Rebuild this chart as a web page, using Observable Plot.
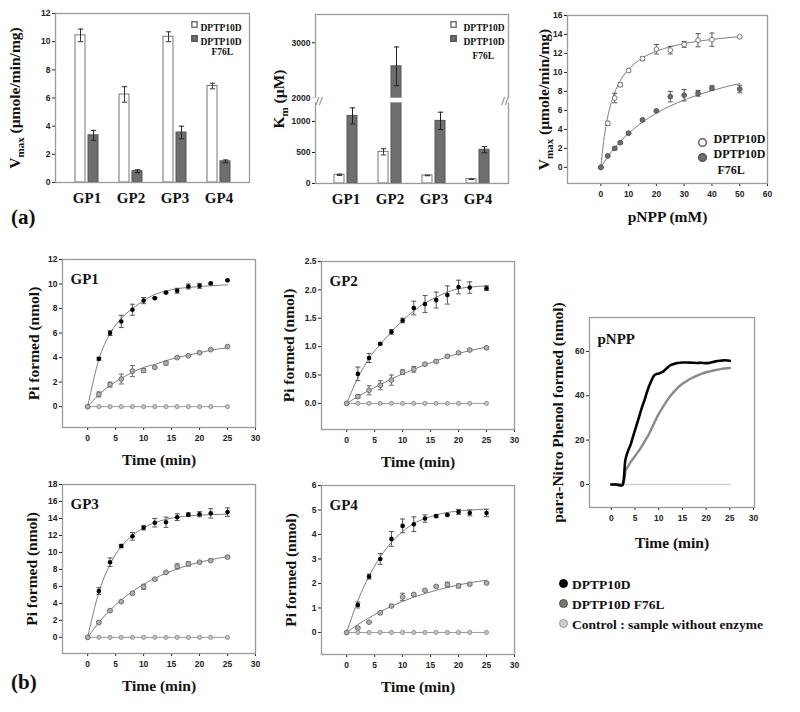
<!DOCTYPE html>
<html><head><meta charset="utf-8">
<script src="https://cdn.jsdelivr.net/npm/d3@7"></script>
<script src="https://cdn.jsdelivr.net/npm/@observablehq/plot@0.6"></script>
<style>
body{margin:0;background:#fff}
#page{position:relative;width:800px;height:712px;background:#fff;overflow:hidden}
.panel{position:absolute}
.panel svg{overflow:visible}
.panel g[aria-label="y-axis label"], .panel g[aria-label="y-axis label"] text,
.panel g[aria-label="x-axis label"], .panel g[aria-label="x-axis label"] text{font:bold 15.5px "Liberation Serif",serif;fill:#111}
.bars g[aria-label="x-axis tick label"], .bars g[aria-label="x-axis tick label"] text{font:bold 15px "Liberation Serif",serif;fill:#111}
.tag{position:absolute;font:bold 21px "Liberation Serif",serif;color:#111}
.legend{position:absolute;font:bold 13.5px "Liberation Serif",serif;color:#111;line-height:20px}
.legend span{display:inline-block;width:7px;height:7px;border-radius:50%;border:1px solid #555;margin-right:4px;vertical-align:1px}
</style>
</head><body><div id="page"></div>
<script>
// ---------- (a) bar charts ----------
const groups = ["GP1", "GP2", "GP3", "GP4"];
const vmaxWt = [10.45, 6.25, 10.35, 6.85];
const vmaxWtErr = [0.45, 0.55, 0.35, 0.2];
const vmaxMut = [3.35, 0.8, 3.55, 1.5];
const vmaxMutErr = [0.35, 0.1, 0.45, 0.1];
const kmWt = [140, 510, 130, 70];
const kmWtErr = [10, 50, 5, 5];
const kmMut = [1090, 2575, 1010, 545];
const kmMutErr = [130, 350, 140, 50];
const kmBreak = [1300, 2000];
const seriesNames = ["DPTP10D", "DPTP10D", "F76L"];

// ---------- (a) Michaelis-Menten ----------
const pnppConc = [0, 2.5, 5, 7, 10, 15, 20, 25, 30, 35, 40, 50];
const mmWt = [0, 4.65, 7.3, 8.7, 10.2, 11.45, 12.45, 12.35, 12.95, 13.4, 13.45, 13.75];
const mmWtErr = [0, 0.2, 0.5, 0.2, 0.15, 0.2, 0.5, 0.4, 0.3, 0.7, 0.7, 0.05];
const mmMut = [0, 1.2, 2.0, 2.6, 3.6, 5.0, 5.95, 7.45, 7.6, 7.8, 8.35, 8.25];
const mmMutErr = [0, 0.05, 0.15, 0.1, 0.1, 0.1, 0.05, 0.55, 0.6, 0.3, 0.25, 0.4];
const fitConc = [0, 1, 2, 3, 4, 5, 6, 8, 10, 12, 15, 20, 25, 30, 35, 40, 45, 50];
const mmWtFit = [0, 2.73, 4.62, 6.0, 7.06, 7.89, 8.57, 9.6, 10.34, 10.91, 11.54, 12.24, 12.71, 13.04, 13.29, 13.48, 13.64, 13.76];
const mmMutFit = [0, 0.47, 0.91, 1.32, 1.7, 2.06, 2.4, 3.03, 3.59, 4.1, 4.77, 5.71, 6.47, 7.1, 7.64, 8.09, 8.49, 8.83];

// ---------- (b) time courses ----------
const timePts = [0, 2, 4, 6, 8, 10, 12, 14, 16, 18, 20, 22, 25];
const ctrlVals = [0, 0, 0, 0, 0, 0, 0, 0, 0, 0, 0, 0, 0];
const gp1Wt = [0, 3.9, 6.0, 6.95, 7.9, 8.65, 8.85, 9.3, 9.45, 9.8, 9.85, 10.05, 10.3];
const gp1WtErr = [0, 0.12, 0.2, 0.5, 0.45, 0.25, 0.05, 0.05, 0.2, 0.2, 0.2, 0.05, 0.05];
const gp1WtFit = [0, 3.85, 5.95, 7.2, 8.0, 8.65, 9.15, 9.43, 9.62, 9.72, 9.8, 9.86, 9.93];
const gp1Mut = [0, 1.0, 1.8, 2.25, 2.9, 2.95, 3.2, 3.55, 4.0, 4.15, 4.4, 4.65, 4.9];
const gp1MutErr = [0, 0.2, 0.2, 0.4, 0.45, 0.15, 0.05, 0.15, 0.05, 0.05, 0.05, 0.05, 0.05];
const gp1MutFit = [0, 0.98, 1.72, 2.3, 2.8, 3.2, 3.45, 3.75, 4.0, 4.2, 4.4, 4.6, 4.8];

const gp2Wt = [0, 0.52, 0.8, 1.05, 1.26, 1.46, 1.68, 1.75, 1.82, 1.91, 2.05, 2.04, 2.03];
const gp2WtErr = [0, 0.12, 0.08, 0.02, 0.04, 0.04, 0.12, 0.15, 0.14, 0.16, 0.12, 0.1, 0.04];
const gp2WtFit = [0, 0.45, 0.79, 1.04, 1.26, 1.46, 1.63, 1.77, 1.87, 1.96, 2.02, 2.05, 2.07];
const gp2Mut = [0, 0.12, 0.23, 0.32, 0.41, 0.55, 0.6, 0.69, 0.74, 0.83, 0.89, 0.94, 0.98];
const gp2MutErr = [0, 0.03, 0.08, 0.08, 0.09, 0.04, 0.05, 0.02, 0.02, 0.02, 0.02, 0.02, 0.02];
const gp2MutFit = [0, 0.12, 0.23, 0.33, 0.43, 0.52, 0.6, 0.68, 0.75, 0.82, 0.88, 0.93, 0.99];

const gp3Wt = [0, 5.45, 8.85, 10.75, 11.9, 12.9, 13.5, 13.55, 14.15, 14.45, 14.5, 14.6, 14.75];
const gp3WtErr = [0, 0.4, 0.5, 0.2, 0.45, 0.25, 0.5, 0.6, 0.4, 0.2, 0.3, 0.55, 0.5];
const gp3WtFit = [0, 5.3, 8.6, 10.7, 12.0, 12.9, 13.5, 13.9, 14.15, 14.3, 14.4, 14.45, 14.5];
const gp3Mut = [0, 1.75, 3.15, 4.2, 5.2, 5.95, 6.85, 7.65, 8.35, 8.65, 8.85, 9.05, 9.45];
const gp3MutErr = [0, 0.1, 0.15, 0.1, 0.2, 0.3, 0.1, 0.1, 0.3, 0.25, 0.1, 0.15, 0.1];
const gp3MutFit = [0, 1.75, 3.2, 4.4, 5.4, 6.25, 6.95, 7.55, 8.05, 8.5, 8.85, 9.15, 9.5];

const gp4Wt = [0, 1.12, 2.28, 3.0, 3.82, 4.35, 4.42, 4.65, 4.75, 4.8, 4.92, 4.88, 4.88];
const gp4WtErr = [0, 0.12, 0.1, 0.22, 0.3, 0.28, 0.3, 0.15, 0.05, 0.03, 0.1, 0.12, 0.15];
const gp4WtFit = [0, 1.3, 2.3, 3.08, 3.68, 4.12, 4.45, 4.65, 4.8, 4.9, 4.96, 5.0, 5.03];
const gp4Mut = [0, 0.18, 0.42, 0.8, 1.08, 1.45, 1.55, 1.72, 1.88, 1.95, 1.9, 1.97, 2.02];
const gp4MutErr = [0, 0.02, 0.02, 0.05, 0.03, 0.15, 0.05, 0.03, 0.03, 0.1, 0.08, 0.03, 0.03];
const gp4MutFit = [0, 0.32, 0.6, 0.85, 1.07, 1.27, 1.44, 1.59, 1.72, 1.84, 1.94, 2.03, 2.13];

// ---------- (b) pNPP continuous traces ----------
const traceTimeWt = [0, 0.5, 1, 1.5, 2, 2.4, 2.7, 2.9, 3.2, 3.6, 4, 4.5, 5, 5.5, 6, 6.5, 7, 7.5, 8, 8.5, 9, 9.5, 10, 10.5, 11, 11.5, 12, 12.5, 13, 13.5, 14, 15, 16, 17, 18, 19, 20, 21, 22, 23, 24, 25];
const traceWt = [0, 0, 0, -0.3, -0.5, -0.3, 4, 10, 13, 15.5, 17.5, 21, 24.5, 28, 31.5, 35, 38, 41.5, 44.5, 47, 49, 49.8, 50, 50.5, 51, 52, 53, 53.8, 54.2, 54.6, 54.8, 55, 55, 54.9, 54.8, 54.9, 54.7, 55, 55.5, 55.8, 56, 55.8];
const traceTimeMut = [0, 1, 2, 2.5, 2.8, 3, 3.5, 4, 5, 6, 7, 8, 9, 10, 11, 12, 13, 14, 15, 16, 17, 18, 19, 20, 21, 22, 23, 24, 25];
const traceMut = [0, 0, 0, 0.2, 3, 6, 8, 9.8, 12.8, 15.8, 19.3, 23, 27.5, 31.8, 35.3, 38.6, 41.3, 43.6, 45.4, 46.8, 48, 49, 49.9, 50.6, 51.1, 51.6, 52, 52.3, 52.5];
const traceTimeCtrl = [0, 5, 10, 15, 20, 25];
const traceCtrl = [0, 0, 0, 0, 0, 0];

const legendItems = ["DPTP10D", "DPTP10D F76L", "Control : sample without enzyme"];

// ================= helpers =================
const page = document.getElementById("page");
const SVG_STYLE = "font: bold 8.5px 'Liberation Sans', Arial, sans-serif; color:#222; background:transparent; overflow:visible";
const SERIF = "'Liberation Serif', serif";
const capSymbol = {draw(ctx, size) { const w = Math.sqrt(size) / 2; ctx.moveTo(-w, 0); ctx.lineTo(w, 0); }};

function place(svg, left, top, cls) {
  const d = document.createElement("div");
  d.className = "panel " + (cls || "");
  d.style.left = left + "px"; d.style.top = top + "px";
  d.appendChild(svg); page.appendChild(d);
}
function subscriptLabel(svg, plain, pre, sub, post) {
  const ns = "http://www.w3.org/2000/svg";
  svg.querySelectorAll("text").forEach(t => {
    if (t.textContent === plain) {
      t.textContent = "";
      const a = document.createElementNS(ns, "tspan"); a.textContent = pre;
      const b = document.createElementNS(ns, "tspan"); b.textContent = sub;
      b.setAttribute("font-size", "11px"); b.setAttribute("dy", "4");
      const c = document.createElementNS(ns, "tspan"); c.textContent = post; c.setAttribute("dy", "-4");
      t.append(a, b, c);
    }
  });
}
function errMarks(rows, xKey, yKey, eKey, opts) {
  const r = rows.filter(d => d[eKey] > 0);
  return [
    Plot.ruleX(r, {x: xKey, y1: d => d[yKey] - d[eKey], y2: d => d[yKey] + d[eKey], stroke: opts.stroke, strokeWidth: 1, dx: opts.dx || 0}),
    Plot.dot(r, {x: xKey, y: d => d[yKey] + d[eKey], symbol: capSymbol, r: opts.cap, stroke: opts.stroke, fill: "none", strokeWidth: 1, dx: opts.dx || 0}),
    Plot.dot(r, {x: xKey, y: d => d[yKey] - d[eKey], symbol: capSymbol, r: opts.cap, stroke: opts.stroke, fill: "none", strokeWidth: 1, dx: opts.dx || 0})
  ];
}
function legendBars(top, f76Dx, f76Dy, squareDx, textDx) {
  const t = {frameAnchor: "top-right", text: d => d, textAnchor: "start", fontFamily: SERIF, fontSize: 9.5, fontWeight: "bold", fill: "#111"};
  return [
    Plot.dot([0], {frameAnchor: "top-right", dx: squareDx, dy: top, symbol: "square", r: 3, fill: "white", stroke: "#777"}),
    Plot.dot([0], {frameAnchor: "top-right", dx: squareDx, dy: top + 14, symbol: "square", r: 3, fill: "#6e6e6e", stroke: "#555"}),
    Plot.text([seriesNames[0]], {...t, dx: textDx, dy: top}),
    Plot.text([seriesNames[1]], {...t, dx: textDx, dy: top + 14}),
    Plot.text([seriesNames[2]], {...t, dx: f76Dx, dy: f76Dy})
  ];
}

// ================= A1: Vmax bars =================
{
  const wt = groups.map((g, i) => ({g, v: vmaxWt[i], e: vmaxWtErr[i]}));
  const mut = groups.map((g, i) => ({g, v: vmaxMut[i], e: vmaxMutErr[i]}));
  const svg = Plot.plot({
    width: 260, height: 215, marginLeft: 55, marginRight: 11, marginTop: 13, marginBottom: 33,
    style: SVG_STYLE,
    x: {domain: groups, paddingInner: 0.3, paddingOuter: 0.34, tickSize: 0, tickPadding: 10, label: null},
    y: {domain: [0, 12], ticks: [0, 2, 4, 6, 8, 10, 12], tickSize: 3, tickPadding: 2,
        label: "Vmax (µmole/min/mg)", labelAnchor: "center", labelOffset: 47, labelArrow: false},
    marks: [
      Plot.barY(wt, {x: "g", y: "v", fill: "white", stroke: "#777", insetLeft: 4, insetRight: 17}),
      Plot.barY(mut, {x: "g", y: "v", fill: "#6e6e6e", stroke: "#555", insetLeft: 17, insetRight: 4}),
      ...errMarks(wt, "g", "v", "e", {stroke: "#333", cap: 3, dx: -6.5}),
      ...errMarks(mut, "g", "v", "e", {stroke: "#222", cap: 3, dx: 6.5}),
      Plot.frame({stroke: "#9a9a9a", strokeWidth: 1.3}),
      ...legendBars(11, -38, 35, -55, -49)
    ]
  });
  subscriptLabel(svg, "Vmax (µmole/min/mg)", "V", "max", " (µmole/min/mg)");
  place(svg, 0, 0, "bars");
}

// ================= A2: Km bars (broken axis) =================
{
  const wt = groups.map((g, i) => ({g, v: kmWt[i], e: kmWtErr[i]}));
  const mut = groups.map((g, i) => ({g, v: kmMut[i], e: kmMutErr[i]}));
  const svg = Plot.plot({
    width: 260, height: 215, marginLeft: 45, marginRight: 22, marginTop: 14, marginBottom: 32,
    style: SVG_STYLE,
    x: {domain: groups, paddingInner: 0.3, paddingOuter: 0.34, tickSize: 0, tickPadding: 10, label: null},
    y: {type: "linear", domain: [0, kmBreak[0], kmBreak[1], 3510], range: [183, 102.4, 97.7, 14],
        ticks: [0, 500, 1000, 2000, 3000], tickFormat: d3.format("d"), tickSize: 3, tickPadding: 2,
        label: "Km (µM)", labelAnchor: "center", labelOffset: 43, labelArrow: false},
    marks: [
      Plot.barY(wt, {x: "g", y: "v", fill: "white", stroke: "#777", insetLeft: 4, insetRight: 17}),
      Plot.barY(mut, {x: "g", y: "v", fill: "#6e6e6e", stroke: "#555", insetLeft: 17, insetRight: 4}),
      ...errMarks(wt, "g", "v", "e", {stroke: "#333", cap: 3, dx: -6.5}),
      ...errMarks(mut, "g", "v", "e", {stroke: "#222", cap: 3, dx: 6.5}),
      Plot.frame({stroke: "#9a9a9a", strokeWidth: 1.3}),
      Plot.rect([kmBreak], {y1: d => d[0], y2: d => d[1], fill: "white", insetLeft: -4, insetRight: -4}),
      Plot.text([kmBreak], {y: d => (d[0] + d[1]) / 2, frameAnchor: "left", text: () => "//", fontSize: 13, fontFamily: SERIF, fill: "#777"}),
      Plot.text([kmBreak], {y: d => (d[0] + d[1]) / 2, frameAnchor: "right", text: () => "//", fontSize: 13, fontFamily: SERIF, fill: "#777"}),
      ...legendBars(10, -36, 38, -55, -45)
    ]
  });
  subscriptLabel(svg, "Km (µM)", "K", "m", " (µM)");
  place(svg, 270, 0, "bars");
}

// ================= A3: Michaelis-Menten =================
{
  const pts = pnppConc.map((c, i) => ({c, wt: mmWt[i], we: mmWtErr[i], mut: mmMut[i], me: mmMutErr[i]}));
  const fit = fitConc.map((c, i) => ({c, wt: mmWtFit[i], mut: mmMutFit[i]}));
  const t = {frameAnchor: "bottom-right", text: d => d, textAnchor: "start", fontFamily: SERIF, fontSize: 12, fontWeight: "bold", fill: "#111"};
  const svg = Plot.plot({
    width: 270, height: 230, marginLeft: 37, marginRight: 33, marginTop: 15, marginBottom: 47,
    style: SVG_STYLE,
    x: {domain: [-12, 60], ticks: [0, 10, 20, 30, 40, 50, 60], tickSize: 3, tickPadding: 4,
        label: "pNPP (mM)", labelAnchor: "center", labelOffset: 38, labelArrow: false},
    y: {domain: [-1.7, 16], ticks: [0, 2, 4, 6, 8, 10, 12, 14, 16], tickSize: 3, tickPadding: 2,
        label: "Vmax (µmole/min/mg)", labelAnchor: "center", labelOffset: 30, labelArrow: false},
    marks: [
      Plot.line(fit, {x: "c", y: "wt", stroke: "#808080", strokeWidth: 1, curve: "monotone-x"}),
      Plot.line(fit, {x: "c", y: "mut", stroke: "#808080", strokeWidth: 1, curve: "monotone-x"}),
      ...errMarks(pts, "c", "wt", "we", {stroke: "#555", cap: 2.8}),
      ...errMarks(pts, "c", "mut", "me", {stroke: "#555", cap: 2.8}),
      Plot.dot(pts, {x: "c", y: "wt", r: 2.4, fill: "white", stroke: "#777", strokeWidth: 1}),
      Plot.dot(pts, {x: "c", y: "mut", r: 2.4, fill: "#6e6e6e", stroke: "#555", strokeWidth: 1}),
      Plot.frame({stroke: "#9a9a9a", strokeWidth: 1.3}),
      Plot.dot([0], {frameAnchor: "bottom-right", dx: -65, dy: -41, r: 3.8, fill: "white", stroke: "#666"}),
      Plot.dot([0], {frameAnchor: "bottom-right", dx: -65, dy: -26, r: 3.8, fill: "#6e6e6e", stroke: "#555"}),
      Plot.text([seriesNames[0]], {...t, dx: -54, dy: -41}),
      Plot.text([seriesNames[1]], {...t, dx: -54, dy: -26}),
      Plot.text([seriesNames[2]], {...t, dx: -50, dy: -10})
    ]
  });
  subscriptLabel(svg, "Vmax (µmole/min/mg)", "V", "max", " (µmole/min/mg)");
  place(svg, 530, 0);
}

// ================= B: time-course panels =================
function kinPanel(o) {
  const rows = timePts.map((t, i) => ({t, wt: o.wt[i], we: o.wtErr[i], wf: o.wtFit[i], mut: o.mut[i], me: o.mutErr[i], mf: o.mutFit[i], c: ctrlVals[i]}));
  const svg = Plot.plot({
    width: 270, height: o.height, marginLeft: o.ml, marginRight: 270 - o.ml - 193, marginTop: o.mt, marginBottom: o.mb,
    style: SVG_STYLE,
    x: {domain: [-4.5, 30], ticks: [0, 5, 10, 15, 20, 25, 30], tickSize: 3, tickPadding: 4,
        label: "Time (min)", labelAnchor: "center", labelOffset: 37, labelArrow: false},
    y: {domain: o.yDomain, ticks: o.yTicks, tickFormat: o.fmt, tickSize: 3, tickPadding: 2,
        label: "Pi formed (nmol)", labelAnchor: "center", labelOffset: o.lo, labelArrow: false},
    marks: [
      Plot.line(rows, {x: "t", y: "c", stroke: "#999", strokeWidth: 1}),
      Plot.line(rows, {x: "t", y: "wf", stroke: "#808080", strokeWidth: 1, curve: "monotone-x"}),
      Plot.line(rows, {x: "t", y: "mf", stroke: "#808080", strokeWidth: 1, curve: "monotone-x"}),
      ...errMarks(rows, "t", "wt", "we", {stroke: "#555", cap: 2.8}),
      ...errMarks(rows, "t", "mut", "me", {stroke: "#666", cap: 2.8}),
      Plot.dot(rows, {x: "t", y: "c", r: 2.1, fill: "#c4c4c4", stroke: "#888", strokeWidth: 0.8}),
      Plot.dot(rows, {x: "t", y: "mut", r: 2.4, fill: "#b0b0b0", stroke: "#666", strokeWidth: 0.9}),
      Plot.dot(rows.filter(d => d.t > 0), {x: "t", y: "wt", r: 2.3, fill: "#000"}),
      Plot.frame({stroke: "#9a9a9a", strokeWidth: 1.3}),
      Plot.text([o.title], {frameAnchor: "top-left", text: d => d, dx: 8, dy: 14, textAnchor: "start", fontFamily: SERIF, fontSize: 15, fontWeight: "bold", fill: "#111"})
    ]
  });
  place(svg, o.left, o.top);
}
kinPanel({title: "GP1", left: 0, top: 240, height: 240, ml: 62, mt: 19, mb: 53, lo: 35,
  yDomain: [-1.7, 12], yTicks: [0, 2, 4, 6, 8, 10, 12], fmt: d3.format("d"),
  wt: gp1Wt, wtErr: gp1WtErr, wtFit: gp1WtFit, mut: gp1Mut, mutErr: gp1MutErr, mutFit: gp1MutFit});
kinPanel({title: "GP2", left: 270, top: 240, height: 240, ml: 51, mt: 21, mb: 51, lo: 39,
  yDomain: [-0.46, 2.5], yTicks: [0, 0.5, 1, 1.5, 2, 2.5], fmt: d3.format(".1f"),
  wt: gp2Wt, wtErr: gp2WtErr, wtFit: gp2WtFit, mut: gp2Mut, mutErr: gp2MutErr, mutFit: gp2MutFit});
kinPanel({title: "GP3", left: 0, top: 465, height: 247, ml: 62, mt: 19, mb: 59, lo: 37,
  yDomain: [-1.9, 18], yTicks: [0, 2, 4, 6, 8, 10, 12, 14, 16, 18], fmt: d3.format("d"),
  wt: gp3Wt, wtErr: gp3WtErr, wtFit: gp3WtFit, mut: gp3Mut, mutErr: gp3MutErr, mutFit: gp3MutFit});
kinPanel({title: "GP4", left: 270, top: 465, height: 247, ml: 51, mt: 20, mb: 58, lo: 37,
  yDomain: [-0.9, 6], yTicks: [0, 1, 2, 3, 4, 5, 6], fmt: d3.format("d"),
  wt: gp4Wt, wtErr: gp4WtErr, wtFit: gp4WtFit, mut: gp4Mut, mutErr: gp4MutErr, mutFit: gp4MutFit});

// ================= B: pNPP traces =================
{
  const wt = traceTimeWt.map((t, i) => ({t, v: traceWt[i]}));
  const mut = traceTimeMut.map((t, i) => ({t, v: traceMut[i]}));
  const ctrl = traceTimeCtrl.map((t, i) => ({t, v: traceCtrl[i]}));
  const svg = Plot.plot({
    width: 255, height: 280, marginLeft: 44, marginRight: 46, marginTop: 27, marginBottom: 63,
    style: SVG_STYLE,
    x: {domain: [-4.6, 30.2], ticks: [0, 5, 10, 15, 20, 25, 30], tickSize: 3, tickPadding: 4,
        label: "Time (min)", labelAnchor: "center", labelOffset: 40, labelArrow: false},
    y: {domain: [-10.4, 75.3], ticks: [0, 20, 40, 60], tickSize: 3, tickPadding: 2,
        label: "para-Nitro Phenol formed (nmol)", labelAnchor: "center", labelOffset: 38, labelArrow: false},
    marks: [
      Plot.line(ctrl, {x: "t", y: "v", stroke: "#cfcfcf", strokeWidth: 1.5}),
      Plot.line(mut, {x: "t", y: "v", stroke: "#8a8a8a", strokeWidth: 2.4, curve: "monotone-x"}),
      Plot.line(wt, {x: "t", y: "v", stroke: "#000", strokeWidth: 2.6, curve: "monotone-x"}),
      Plot.frame({stroke: "#9a9a9a", strokeWidth: 1.3}),
      Plot.text(["pNPP"], {frameAnchor: "top-left", text: d => d, dx: 8, dy: 16, textAnchor: "start", fontFamily: SERIF, fontSize: 15, fontWeight: "bold", fill: "#111"})
    ]
  });
  place(svg, 545, 290);
}

// ================= tags & legend =================
[["(a)", 11, 205], ["(b)", 11, 670]].forEach(([s, x, y]) => {
  const d = document.createElement("div"); d.className = "tag"; d.textContent = s;
  d.style.left = x + "px"; d.style.top = y + "px"; page.appendChild(d);
});
{
  const colors = [["#000", "#000"], ["#777", "#555"], ["#cfcfcf", "#999"]];
  const lg = document.createElement("div"); lg.className = "legend";
  lg.style.left = "559px"; lg.style.top = "575px";
  legendItems.forEach((s, i) => {
    const row = document.createElement("div");
    const b = document.createElement("span"); b.style.background = colors[i][0]; b.style.borderColor = colors[i][1];
    row.appendChild(b); row.appendChild(document.createTextNode(s)); lg.appendChild(row);
  });
  page.appendChild(lg);
}
</script></body></html>
